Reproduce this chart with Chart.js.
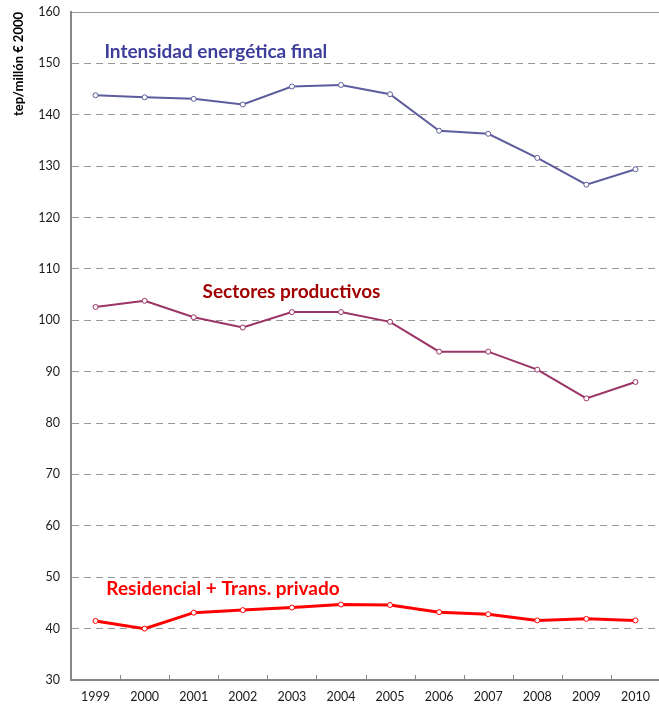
<!DOCTYPE html>
<html>
<head>
<meta charset="utf-8">
<script src="https://cdn.jsdelivr.net/npm/chart.js@4.4.0/dist/chart.umd.min.js"></script>
<style>
html, body { margin: 0; padding: 0; background: #fff; overflow: hidden; }
#wrap { width: 665px; height: 707px; }
</style>
</head>
<body>
<div id="wrap"><canvas id="intensityChart" width="665" height="707"></canvas></div>
<script>
const years = ['1999', '2000', '2001', '2002', '2003', '2004', '2005', '2006', '2007', '2008', '2009', '2010'];

// tep / millón € 2000
const finalIntensity = [143.8, 143.4, 143.1, 142.0, 145.5, 145.8, 144.0, 136.9, 136.3, 131.6, 126.4, 129.4];
const productiveSectors = [102.6, 103.8, 100.6, 98.6, 101.6, 101.6, 99.7, 93.9, 93.9, 90.4, 84.8, 88.0];
const residentialTransport = [41.5, 40.0, 43.1, 43.6, 44.1, 44.7, 44.6, 43.2, 42.8, 41.6, 41.9, 41.6];

const seriesNames = ['Intensidad energética final', 'Sectores productivos', 'Residencial + Trans. privado'];
const yMin = 30;
const yMax = 160;
const yStep = 10;

const axisGray = '#868686';
const FONT = 'Lato, "Open Sans", sans-serif';

// series names written next to each line (x = category index, y = value)
const seriesTags = [
    { text: seriesNames[0], x: 0.18, y: 152.2, color: '#3d3d9c' },
    { text: seriesNames[1], x: 2.18, y: 105.5, color: '#a00000' },
    { text: seriesNames[2], x: 0.22, y: 47.7, color: '#ff0000' }
];

const tagPlugin = {
    id: 'seriesTags',
    afterDatasetsDraw(chart) {
        const { ctx, scales: { x, y } } = chart;
        ctx.save();
        ctx.font = 'bold 19px ' + FONT;
        ctx.textBaseline = 'middle';
        ctx.textAlign = 'left';
        seriesTags.forEach(function (t) {
            ctx.fillStyle = t.color;
            ctx.fillText(t.text, x.getPixelForValue(t.x), y.getPixelForValue(t.y));
        });
        ctx.restore();
    }
};

// small tick marks pointing up from the x axis, between categories
const innerTicks = {
    id: 'innerTicks',
    afterDraw(chart) {
        const { ctx, scales: { x }, chartArea } = chart;
        ctx.save();
        ctx.strokeStyle = axisGray;
        ctx.lineWidth = 1;
        for (let i = 0; i < years.length; i++) {
            const px = Math.round(x.getPixelForValue(i + 0.5)) + 0.5;
            ctx.beginPath();
            ctx.moveTo(px, chartArea.bottom);
            ctx.lineTo(px, chartArea.bottom - 5);
            ctx.stroke();
        }
        ctx.restore();
    }
};

function lineSet(label, data, color, width) {
    return {
        label: label,
        data: data,
        borderColor: color,
        borderWidth: width,
        pointRadius: 2.5,
        pointBorderWidth: 1,
        pointBackgroundColor: '#fff',
        pointBorderColor: color,
        tension: 0
    };
}

new Chart(document.getElementById('intensityChart'), {
    type: 'line',
    data: {
        labels: years,
        datasets: [
            lineSet(seriesNames[0], finalIntensity, '#5d5d9d', 2),
            lineSet(seriesNames[1], productiveSectors, '#9b3366', 2),
            lineSet(seriesNames[2], residentialTransport, '#ff0000', 3)
        ]
    },
    options: {
        responsive: false,
        animation: false,
        layout: { padding: { top: 12, right: 0, bottom: 0, left: 0 } },
        plugins: {
            legend: { display: false },
            tooltip: { enabled: false }
        },
        scales: {
            x: {
                offset: true,
                grid: { display: true, drawOnChartArea: false, drawTicks: false },
                border: { display: true, color: axisGray, width: 2 },
                ticks: { padding: 9, color: '#1a1a1a', font: { family: FONT, size: 12.5 } },
                afterFit(scale) { scale.height = 27; }
            },
            y: {
                min: yMin,
                max: yMax,
                grid: { color: '#999', lineWidth: 1, drawTicks: false },
                border: {
                    display: true,
                    color: axisGray,
                    width: 2,
                    dash: function (c) { return c.tick && c.tick.value === yMax ? [] : [7, 5]; }
                },
                ticks: { stepSize: yStep, padding: 11, color: '#1a1a1a', font: { family: FONT, size: 12.5 } },
                title: {
                    display: true,
                    text: 'tep/millón € 2000',
                    align: 'end',
                    color: '#000',
                    font: { family: FONT, size: 13, weight: 'bold' },
                    padding: { top: 11, bottom: 0 }
                },
                afterFit(scale) {
                    scale.width = 71;
                    scale.paddingTop = 0;
                    scale.paddingBottom = 0;
                }
            }
        }
    },
    plugins: [tagPlugin, innerTicks]
});
</script>
</body>
</html>
